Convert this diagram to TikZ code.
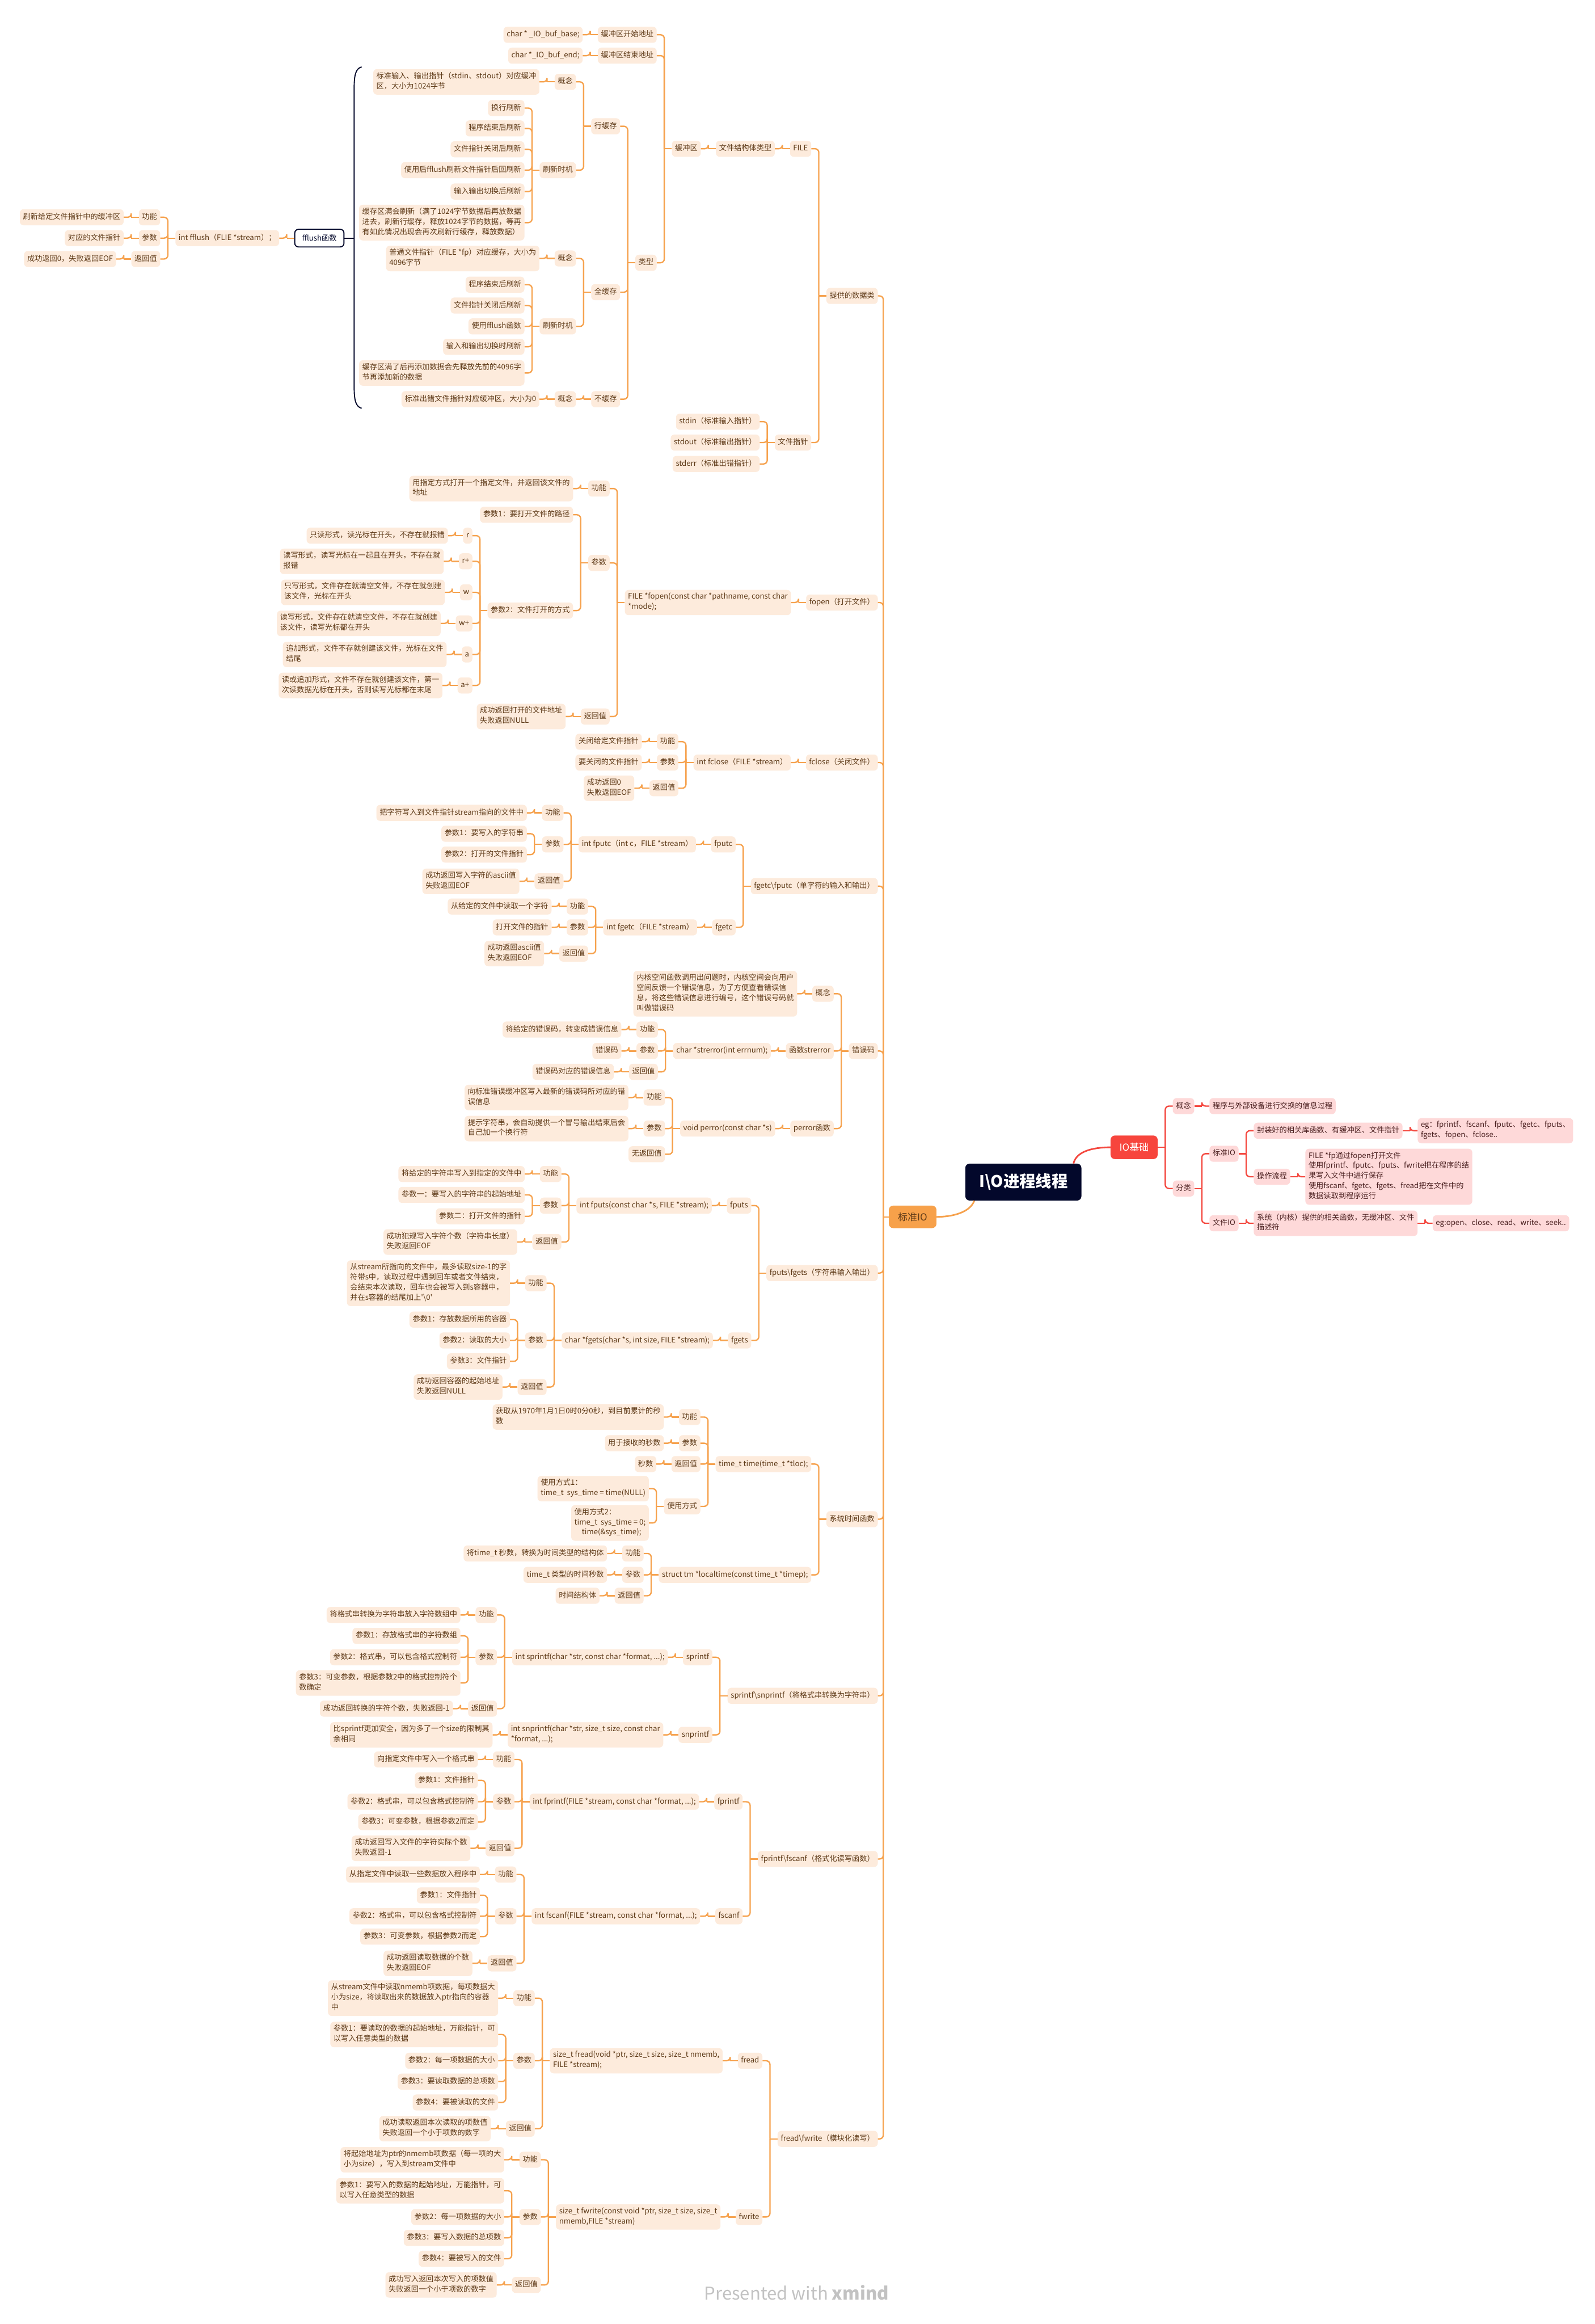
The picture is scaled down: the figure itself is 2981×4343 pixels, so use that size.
\documentclass[tikz,border=0pt]{standalone}
\usepackage{fontspec}
\newfontfamily\cjk{Noto Sans CJK SC}
\usetikzlibrary{calc}
\definecolor{peach}{HTML}{FDEBDC}
\definecolor{orl}{HTML}{F6A24E}
\definecolor{brn}{HTML}{5E3A18}
\definecolor{stdfill}{HTML}{F7A14A}
\definecolor{navy}{HTML}{03082B}
\definecolor{redf}{HTML}{F7453D}
\definecolor{pinkf}{HTML}{FED9D9}
\definecolor{redl}{HTML}{F4483F}
\definecolor{pinktxt}{HTML}{4A1F1F}
\tikzset{
  box/.style={fill=peach, rounded corners=7pt, inner xsep=6pt, inner ysep=5.5pt,
    font=\cjk\fontsize{14}{19}\selectfont, text=brn, align=left,
    execute at begin node=\strut, execute at end node=\strut},
  pbox/.style={box, fill=pinkf, text=pinktxt},
  conn/.style={draw=orl, line width=2.5pt},
  rconn/.style={draw=redl, line width=2.5pt}
}
% left-growing link: parent #1, child #2
\newcommand\Lk[2]{%
  \coordinate (tmpB) at ($(#1.west)!0.5!(#1.west -| #2.east)$);%
  \draw[conn] (#1.west) -- (tmpB);%
  \draw[conn,rounded corners=7pt] (tmpB) |- (#2.east);}
% left-growing node: name, parent, y, text
\newcommand\Ln[4]{%
  \node[box,anchor=east] (#1) at ($(#2.west |- 0,#3)+(-28,0)$) {#4};%
  \Lk{#2}{#1}}
% right-growing link and node
\newcommand\Rk[2]{%
  \coordinate (tmpB) at ($(#1.east)!0.5!(#1.east -| #2.west)$);%
  \draw[rconn] (#1.east) -- (tmpB);%
  \draw[rconn,rounded corners=7pt] (tmpB) |- (#2.west);}
\newcommand\Rn[4]{%
  \node[pbox,anchor=west] (#1) at ($(#2.east |- 0,#3)+(28,0)$) {#4};%
  \Rk{#2}{#1}}
\begin{document}
\begin{tikzpicture}[x=1pt,y=-1pt]
\useasboundingbox (0,0) rectangle (2981,4343);
\fill[white] (0,0) rectangle (2981,4343);

% ---------- centre ----------
\node[fill=navy, rounded corners=8pt, text=white, font=\cjk\bfseries\fontsize{30}{36}\selectfont,
  minimum width=217pt, minimum height=69pt] (root) at (1913,2209) {I\textbackslash O进程线程};
\node[fill=stdfill, rounded corners=8pt, text=brn, font=\cjk\fontsize{18}{22}\selectfont,
  minimum width=89pt, minimum height=42pt] (std) at (1706,2274) {标准IO};
\node[fill=redf, rounded corners=8pt, text=white, font=\cjk\fontsize{18}{22}\selectfont,
  minimum width=88pt, minimum height=44pt] (iob) at (2120,2144) {IO基础};
\draw[orl, line width=3pt] ($(root.south west)+(17,0)$) .. controls +(-8,22) and +(30,0) .. (std.east);
\draw[redl, line width=3pt] ($(root.north east)+(-15,0)$) .. controls +(5,-22) and +(-35,0) .. (iob.west);

% ---------- IO基础 ----------
\Rn{ic}{iob}{2067}{概念}
\Rn{ica}{ic}{2067}{程序与外部设备进行交换的信息过程}
\Rn{ik}{iob}{2221}{分类}
\Rn{is}{ik}{2156}{标准IO}
\Rn{is1}{is}{2113}{封装好的相关库函数、有缓冲区、文件指针}
\Rn{is1a}{is1}{2113}{eg：fprintf、fscanf、fputc、fgetc、fputs、\\fgets、fopen、fclose..}
\Rn{is2}{is}{2199}{操作流程}
\Rn{is2a}{is2}{2199}{FILE *fp通过fopen打开文件\\使用fprintf、fputc、fputs、fwrite把在程序的结\\果写入文件中进行保存\\使用fscanf、fgetc、fgets、fread把在文件中的\\数据读取到程序运行}
\Rn{iw}{ik}{2286}{文件IO}
\Rn{iw1}{iw}{2286}{系统（内核）提供的相关函数，无缓冲区、文件\\描述符}
\Rn{iw1a}{iw1}{2286}{eg:open、close、read、write、seek..}

% ---------- level 1 ----------
\node[box,anchor=east] (d) at (1641,553) {提供的数据类}; \Lk{std}{d}
\node[box,anchor=east] (fo) at (1641,1126) {fopen（打开文件）}; \Lk{std}{fo}
\node[box,anchor=east] (fc) at (1641,1425) {fclose（关闭文件）}; \Lk{std}{fc}
\node[box,anchor=east] (fg) at (1641,1656) {fgetc\textbackslash fputc（单字符的输入和输出）}; \Lk{std}{fg}
\node[box,anchor=east] (er) at (1641,1964) {错误码}; \Lk{std}{er}
\node[box,anchor=east] (fs) at (1641,2379) {fputs\textbackslash fgets（字符串输入输出）}; \Lk{std}{fs}
\node[box,anchor=east] (tm) at (1641,2839) {系统时间函数}; \Lk{std}{tm}
\node[box,anchor=east] (sp) at (1641,3169) {sprintf\textbackslash snprintf（将格式串转换为字符串）}; \Lk{std}{sp}
\node[box,anchor=east] (fpn) at (1641,3474) {fprintf\textbackslash fscanf（格式化读写函数）}; \Lk{std}{fpn}
\node[box,anchor=east] (fr) at (1641,3997) {fread\textbackslash fwrite（模块化读写）}; \Lk{std}{fr}

% ---------- 提供的数据类 ----------
\Ln{dF}{d}{278}{FILE}
\Ln{dFa}{dF}{278}{文件结构体类型}
\Ln{dFb}{dFa}{278}{缓冲区}
\Ln{b1}{dFb}{65}{缓冲区开始地址}
\Ln{b1a}{b1}{65}{char * \_IO\_buf\_base;}
\Ln{b2}{dFb}{104}{缓冲区结束地址}
\Ln{b2a}{b2}{104}{char *\_IO\_buf\_end;}
\Ln{b3}{dFb}{491}{类型}
\Ln{lh}{b3}{236}{行缓存}
\Ln{lhc}{lh}{153}{概念}
\Ln{lhca}{lhc}{153}{标准输入、输出指针（stdin、stdout）对应缓冲\\区，大小为1024字节}
\Ln{lhs}{lh}{318}{刷新时机}
\Ln{lhs1}{lhs}{202}{换行刷新}
\Ln{lhs2}{lhs}{240}{程序结束后刷新}
\Ln{lhs3}{lhs}{279}{文件指针关闭后刷新}
\Ln{lhs4}{lhs}{318}{使用后fflush刷新文件指针后回刷新}
\Ln{lhs5}{lhs}{358}{输入输出切换后刷新}
\Ln{lhs6}{lhs}{416}{缓存区满会刷新（满了1024字节数据后再放数据\\进去，刷新行缓存，释放1024字节的数据，等再\\有如此情况出现会再次刷新行缓存，释放数据）}
\Ln{qh}{b3}{546}{全缓存}
\Ln{qhc}{qh}{483}{概念}
\Ln{qhca}{qhc}{483}{普通文件指针（FILE *fp）对应缓存，大小为\\4096字节}
\Ln{qhs}{qh}{610}{刷新时机}
\Ln{qhs1}{qhs}{532}{程序结束后刷新}
\Ln{qhs2}{qhs}{571}{文件指针关闭后刷新}
\Ln{qhs3}{qhs}{610}{使用fflush函数}
\Ln{qhs4}{qhs}{648}{输入和输出切换时刷新}
\Ln{qhs5}{qhs}{697}{缓存区满了后再添加数据会先释放先前的4096字\\节再添加新的数据}
\Ln{nh}{b3}{746}{不缓存}
\Ln{nhc}{nh}{746}{概念}
\Ln{nhca}{nhc}{746}{标准出错文件指针对应缓冲区，大小为0}
\Ln{dP}{d}{827}{文件指针}
\Ln{dP1}{dP}{788}{stdin（标准输入指针）}
\Ln{dP2}{dP}{827}{stdout（标准输出指针）}
\Ln{dP3}{dP}{867}{stderr（标准出错指针）}

% ---------- fflush summary ----------
\node[fill=white, draw=navy, line width=2pt, rounded corners=7pt, font=\cjk\fontsize{14}{19}\selectfont,
  text=navy, minimum height=33pt, minimum width=92pt] (ff) at (597,445) {fflush函数};
\coordinate (bt) at (676,125);
\coordinate (bb) at (676,763);
\coordinate (bm) at (662,445);
\draw[navy, line width=2pt] (bt) .. controls (665,128) and (662,140) .. (662,165) -- (662,723) .. controls (662,748) and (665,760) .. (bb);
\draw[navy, line width=2pt] (ff.east) -- (bm);
\Ln{ff1}{ff}{445}{int fflush（FLIE *stream）；}
\Ln{ff1a}{ff1}{406}{功能}
\Ln{ff1aa}{ff1a}{406}{刷新给定文件指针中的缓冲区}
\Ln{ff1b}{ff1}{445}{参数}
\Ln{ff1ba}{ff1b}{445}{对应的文件指针}
\Ln{ff1c}{ff1}{484}{返回值}
\Ln{ff1ca}{ff1c}{484}{成功返回0，失败返回EOF}

% ---------- fopen ----------
\Ln{fo1}{fo}{1126}{FILE *fopen(const char *pathname, const char\\*mode);}
\Ln{fo1a}{fo1}{913}{功能}
\Ln{fo1aa}{fo1a}{913}{用指定方式打开一个指定文件，并返回该文件的\\地址}
\Ln{fo1b}{fo1}{1052}{参数}
\Ln{fo1b1}{fo1b}{962}{参数1：要打开文件的路径}
\Ln{fo1b2}{fo1b}{1141}{参数2：文件打开的方式}
\Ln{mr}{fo1b2}{1001}{r}
\Ln{mra}{mr}{1001}{只读形式，读光标在开头，不存在就报错}
\Ln{mrp}{fo1b2}{1049}{r+}
\Ln{mrpa}{mrp}{1049}{读写形式，读写光标在一起且在开头，不存在就\\报错}
\Ln{mw}{fo1b2}{1107}{w}
\Ln{mwa}{mw}{1107}{只写形式，文件存在就清空文件，不存在就创建\\该文件，光标在开头}
\Ln{mwp}{fo1b2}{1165}{w+}
\Ln{mwpa}{mwp}{1165}{读写形式，文件存在就清空文件，不存在就创建\\该文件，读写光标都在开头}
\Ln{ma}{fo1b2}{1223}{a}
\Ln{maa}{ma}{1223}{追加形式，文件不存就创建该文件，光标在文件\\结尾}
\Ln{map}{fo1b2}{1281}{a+}
\Ln{mapa}{map}{1281}{读或追加形式，文件不存在就创建该文件，第一\\次读数据光标在开头，否则读写光标都在末尾}
\Ln{fo1c}{fo1}{1339}{返回值}
\Ln{fo1ca}{fo1c}{1339}{成功返回打开的文件地址\\失败返回NULL}

% ---------- fclose ----------
\Ln{fc1}{fc}{1425}{int fclose（FILE *stream）}
\Ln{fc1a}{fc1}{1386}{功能}
\Ln{fc1aa}{fc1a}{1386}{关闭给定文件指针}
\Ln{fc1b}{fc1}{1425}{参数}
\Ln{fc1ba}{fc1b}{1425}{要关闭的文件指针}
\Ln{fc1c}{fc1}{1473}{返回值}
\Ln{fc1ca}{fc1c}{1473}{成功返回0\\失败返回EOF}

% ---------- fgetc / fputc ----------
\Ln{pc}{fg}{1578}{fputc}
\Ln{pc1}{pc}{1578}{int fputc（int c，FILE *stream）}
\Ln{pc1a}{pc1}{1519}{功能}
\Ln{pc1aa}{pc1a}{1519}{把字符写入到文件指针stream指向的文件中}
\Ln{pc1b}{pc1}{1578}{参数}
\Ln{pc1b1}{pc1b}{1558}{参数1：要写入的字符串}
\Ln{pc1b2}{pc1b}{1597}{参数2：打开的文件指针}
\Ln{pc1c}{pc1}{1647}{返回值}
\Ln{pc1ca}{pc1c}{1647}{成功返回写入字符的ascii值\\失败返回EOF}
\Ln{gc}{fg}{1733}{fgetc}
\Ln{gc1}{gc}{1733}{int fgetc（FILE *stream）}
\Ln{gc1a}{gc1}{1694}{功能}
\Ln{gc1aa}{gc1a}{1694}{从给定的文件中读取一个字符}
\Ln{gc1b}{gc1}{1733}{参数}
\Ln{gc1ba}{gc1b}{1733}{打开文件的指针}
\Ln{gc1c}{gc1}{1782}{返回值}
\Ln{gc1ca}{gc1c}{1782}{成功返回ascii值\\失败返回EOF}

% ---------- 错误码 ----------
\Ln{erc}{er}{1857}{概念}
\Ln{erca}{erc}{1857}{内核空间函数调用出问题时，内核空间会向用户\\空间反馈一个错误信息，为了方便查看错误信\\息，将这些错误信息进行编号，这个错误号码就\\叫做错误码}
\Ln{ers}{er}{1964}{函数strerror}
\Ln{ers1}{ers}{1964}{char *strerror(int errnum);}
\Ln{ers1a}{ers1}{1924}{功能}
\Ln{ers1aa}{ers1a}{1924}{将给定的错误码，转变成错误信息}
\Ln{ers1b}{ers1}{1964}{参数}
\Ln{ers1ba}{ers1b}{1964}{错误码}
\Ln{ers1c}{ers1}{2003}{返回值}
\Ln{ers1ca}{ers1c}{2003}{错误码对应的错误信息}
\Ln{erp}{er}{2109}{perror函数}
\Ln{erp1}{erp}{2109}{void perror(const char *s)}
\Ln{erp1a}{erp1}{2051}{功能}
\Ln{erp1aa}{erp1a}{2051}{向标准错误缓冲区写入最新的错误码所对应的错\\误信息}
\Ln{erp1b}{erp1}{2109}{参数}
\Ln{erp1ba}{erp1b}{2109}{提示字符串，会自动提供一个冒号输出结束后会\\自己加一个换行符}
\Ln{erp1c}{erp1}{2157}{无返回值}

% ---------- fputs / fgets ----------
\Ln{ps}{fs}{2253}{fputs}
\Ln{ps1}{ps}{2253}{int fputs(const char *s, FILE *stream);}
\Ln{ps1a}{ps1}{2194}{功能}
\Ln{ps1aa}{ps1a}{2194}{将给定的字符串写入到指定的文件中}
\Ln{ps1b}{ps1}{2253}{参数}
\Ln{ps1b1}{ps1b}{2233}{参数一：要写入的字符串的起始地址}
\Ln{ps1b2}{ps1b}{2273}{参数二：打开文件的指针}
\Ln{ps1c}{ps1}{2321}{返回值}
\Ln{ps1ca}{ps1c}{2321}{成功犯规写入字符个数（字符串长度）\\失败返回EOF}
\Ln{gs}{fs}{2505}{fgets}
\Ln{gs1}{gs}{2505}{char *fgets(char *s, int size, FILE *stream);}
\Ln{gs1a}{gs1}{2398}{功能}
\Ln{gs1aa}{gs1a}{2398}{从stream所指向的文件中，最多读取size-1的字\\符带s中，读取过程中遇到回车或者文件结束，\\会结束本次读取，回车也会被写入到s容器中，\\并在s容器的结尾加上'\textbackslash 0'}
\Ln{gs1b}{gs1}{2505}{参数}
\Ln{gs1b1}{gs1b}{2466}{参数1：存放数据所用的容器}
\Ln{gs1b2}{gs1b}{2505}{参数2：读取的大小}
\Ln{gs1b3}{gs1b}{2544}{参数3：文件指针}
\Ln{gs1c}{gs1}{2592}{返回值}
\Ln{gs1ca}{gs1c}{2592}{成功返回容器的起始地址\\失败返回NULL}

% ---------- 系统时间函数 ----------
\Ln{tt}{tm}{2736}{time\_t time(time\_t *tloc);}
\Ln{tt1}{tt}{2648}{功能}
\Ln{tt1a}{tt1}{2648}{获取从1970年1月1日0时0分0秒，到目前累计的秒\\数}
\Ln{tt2}{tt}{2697}{参数}
\Ln{tt2a}{tt2}{2697}{用于接收的秒数}
\Ln{tt3}{tt}{2736}{返回值}
\Ln{tt3a}{tt3}{2736}{秒数}
\Ln{tt4}{tt}{2815}{使用方式}
\Ln{tt4a}{tt4}{2782}{使用方式1：\\time\_t\ \ sys\_time = time(NULL)}
\Ln{tt4b}{tt4}{2846}{使用方式2：\\time\_t\ \ sys\_time = 0;\\\hspace*{14pt}time(\&sys\_time);}
\Ln{tl}{tm}{2943}{struct tm *localtime(const time\_t *timep);}
\Ln{tl1}{tl}{2903}{功能}
\Ln{tl1a}{tl1}{2903}{将time\_t 秒数，转换为时间类型的结构体}
\Ln{tl2}{tl}{2943}{参数}
\Ln{tl2a}{tl2}{2943}{time\_t 类型的时间秒数}
\Ln{tl3}{tl}{2982}{返回值}
\Ln{tl3a}{tl3}{2982}{时间结构体}

% ---------- sprintf / snprintf ----------
\Ln{spa}{sp}{3097}{sprintf}
\Ln{spa1}{spa}{3097}{int sprintf(char *str, const char *format, ...);}
\Ln{spa1a}{spa1}{3018}{功能}
\Ln{spa1aa}{spa1a}{3018}{将格式串转换为字符串放入字符数组中}
\Ln{spa1b}{spa1}{3097}{参数}
\Ln{spa1b1}{spa1b}{3057}{参数1：存放格式串的字符数组}
\Ln{spa1b2}{spa1b}{3097}{参数2：格式串，可以包含格式控制符}
\Ln{spa1b3}{spa1b}{3145}{参数3：可变参数，根据参数2中的格式控制符个\\数确定}
\Ln{spa1c}{spa1}{3193}{返回值}
\Ln{spa1ca}{spa1c}{3193}{成功返回转换的字符个数，失败返回-1}
\Ln{snp}{sp}{3242}{snprintf}
\Ln{snp1}{snp}{3242}{int snprintf(char *str, size\_t size, const char\\*format, ...);}
\Ln{snp1a}{snp1}{3242}{比sprintf更加安全，因为多了一个size的限制其\\余相同}

% ---------- fprintf / fscanf ----------
\Ln{fpr}{fpn}{3367}{fprintf}
\Ln{fpr1}{fpr}{3367}{int fprintf(FILE *stream, const char *format, ...);}
\Ln{fpr1a}{fpr1}{3288}{功能}
\Ln{fpr1aa}{fpr1a}{3288}{向指定文件中写入一个格式串}
\Ln{fpr1b}{fpr1}{3367}{参数}
\Ln{fpr1b1}{fpr1b}{3327}{参数1：文件指针}
\Ln{fpr1b2}{fpr1b}{3367}{参数2：格式串，可以包含格式控制符}
\Ln{fpr1b3}{fpr1b}{3405}{参数3：可变参数，根据参数2而定}
\Ln{fpr1c}{fpr1}{3454}{返回值}
\Ln{fpr1ca}{fpr1c}{3454}{成功返回写入文件的字符实际个数\\失败返回-1}
\Ln{fsc}{fpn}{3581}{fscanf}
\Ln{fsc1}{fsc}{3581}{int fscanf(FILE *stream, const char *format, ...);}
\Ln{fsc1a}{fsc1}{3503}{功能}
\Ln{fsc1aa}{fsc1a}{3503}{从指定文件中读取一些数据放入程序中}
\Ln{fsc1b}{fsc1}{3581}{参数}
\Ln{fsc1b1}{fsc1b}{3542}{参数1：文件指针}
\Ln{fsc1b2}{fsc1b}{3581}{参数2：格式串，可以包含格式控制符}
\Ln{fsc1b3}{fsc1b}{3619}{参数3：可变参数，根据参数2而定}
\Ln{fsc1c}{fsc1}{3669}{返回值}
\Ln{fsc1ca}{fsc1c}{3669}{成功返回读取数据的个数\\失败返回EOF}

% ---------- fread / fwrite ----------
\Ln{frd}{fr}{3851}{fread}
\Ln{frd1}{frd}{3851}{size\_t fread(void *ptr, size\_t size, size\_t nmemb,\\FILE *stream);}
\Ln{frd1a}{frd1}{3734}{功能}
\Ln{frd1aa}{frd1a}{3734}{从stream文件中读取nmemb项数据，每项数据大\\小为size，将读取出来的数据放入ptr指向的容器\\中}
\Ln{frd1b}{frd1}{3851}{参数}
\Ln{frd1b1}{frd1b}{3802}{参数1：要读取的数据的起始地址，万能指针，可\\以写入任意类型的数据}
\Ln{frd1b2}{frd1b}{3851}{参数2：每一项数据的大小}
\Ln{frd1b3}{frd1b}{3890}{参数3：要读取数据的总项数}
\Ln{frd1b4}{frd1b}{3929}{参数4：要被读取的文件}
\Ln{frd1c}{frd1}{3978}{返回值}
\Ln{frd1ca}{frd1c}{3978}{成功读取返回本次读取的项数值\\失败返回一个小于项数的数字}
\Ln{fwr}{fr}{4143}{fwrite}
\Ln{fwr1}{fwr}{4143}{size\_t fwrite(const void *ptr, size\_t size, size\_t\\nmemb,FILE *stream)}
\Ln{fwr1a}{fwr1}{4036}{功能}
\Ln{fwr1aa}{fwr1a}{4036}{将起始地址为ptr的nmemb项数据（每一项的大\\小为size），写入到stream文件中}
\Ln{fwr1b}{fwr1}{4143}{参数}
\Ln{fwr1b1}{fwr1b}{4094}{参数1：要写入的数据的起始地址，万能指针，可\\以写入任意类型的数据}
\Ln{fwr1b2}{fwr1b}{4143}{参数2：每一项数据的大小}
\Ln{fwr1b3}{fwr1b}{4182}{参数3：要写入数据的总项数}
\Ln{fwr1b4}{fwr1b}{4221}{参数4：要被写入的文件}
\Ln{fwr1c}{fwr1}{4270}{返回值}
\Ln{fwr1ca}{fwr1c}{4270}{成功写入返回本次写入的项数值\\失败返回一个小于项数的数字}

% ---------- watermark ----------
\node[text=black!24, font=\cjk\fontsize{33}{38}\selectfont] (wm) at (1489,4284) {Presented with \textbf{xmind}};
\end{tikzpicture}
\end{document}
